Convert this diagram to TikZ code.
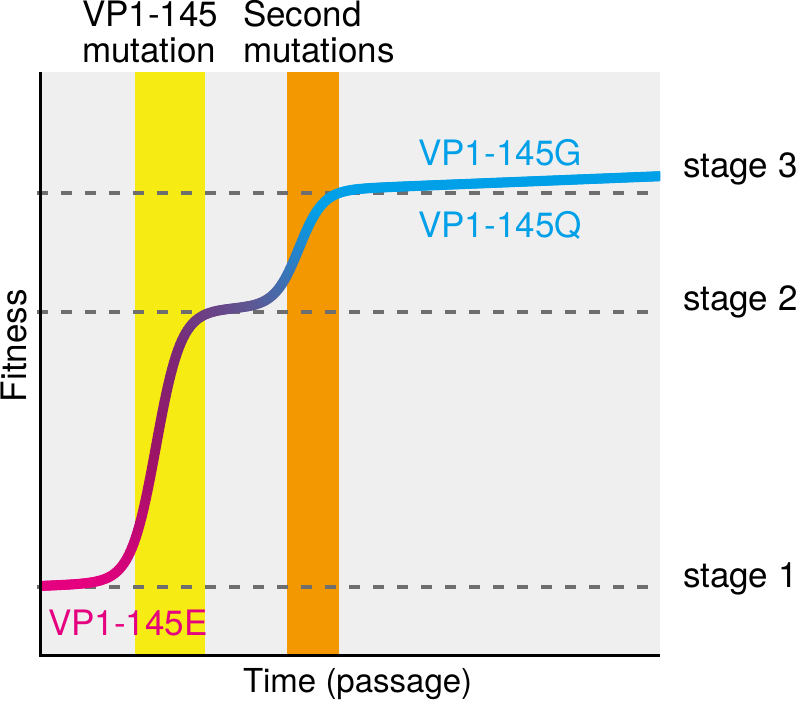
\documentclass[tikz,border=0pt]{standalone}
\usepackage{fontspec}
\setmainfont{TeX Gyre Heros}
\definecolor{bg}{RGB}{239,239,239}
\definecolor{yel}{RGB}{247,235,20}
\definecolor{ora}{RGB}{243,152,0}
\definecolor{mag}{RGB}{228,0,127}
\definecolor{blu}{RGB}{0,160,233}
\definecolor{dgray}{RGB}{110,110,110}
\pgfmathdeclarefunction{sg}{1}{\pgfmathparse{1/(1+exp(-max(-9,min(9,#1))))}}
\pgfmathdeclarefunction{fy}{1}{\pgfmathparse{586-270*sg((#1-156)/12.5)-115*sg((#1-299)/12)-0.04*(#1-40)}}
\pgfmathdeclarefunction{cl}{3}{\pgfmathparse{max(0,min(1,(#1-#2)/(#3-#2)))}}
\begin{document}
\begin{tikzpicture}[x=1pt,y=-1pt,
  lbl/.style={font=\fontsize{35}{40}\selectfont, inner sep=0pt, outer sep=0pt},
  stageline/.style={dgray, line width=4pt, dash pattern=on 11pt off 13pt}]
\useasboundingbox (0,0) rectangle (800,706);
% background and bands
\fill[bg] (40,72) rectangle (660,655);
\fill[yel] (135,72) rectangle (205,655);
\fill[ora] (287,72) rectangle (339,655);
% stage lines
\draw[stageline] (37,193) -- (660,193);
\draw[stageline] (37,312) -- (660,312);
\draw[stageline] (37,587) -- (660,587);
% fitness curve with colour gradient along its length
\begin{scope}
\clip (40,0) rectangle (660,706);
\xdef\arc{0}
\foreach \x in {38,40,...,660} {
  \pgfmathsetmacro\xa{\x}
  \pgfmathsetmacro\xb{\x+2}
  \pgfmathsetmacro\ya{fy(\xa)}
  \pgfmathsetmacro\yb{fy(\xb)}
  \pgfmathsetmacro\arcn{\arc+veclen(2,\yb-\ya)}
  \pgfmathsetmacro\am{(\arc+\arcn)/2}
  \pgfmathsetmacro\tA{cl(\am,60,210)}
  \pgfmathsetmacro\tB{cl(\am,210,320)}
  \pgfmathsetmacro\tC{cl(\am,320,410)}
  \pgfmathsetmacro\tD{cl(\am,410,480)}
  \pgfmathsetmacro\tE{cl(\am,480,530)}
  \pgfmathtruncatemacro\cr{max(0,228-72*\tA-34*\tB-27*\tC-55*\tD-40*\tE)}
  \pgfmathtruncatemacro\cg{20*\tA+22*\tB+46*\tC+42*\tD+30*\tE}
  \pgfmathtruncatemacro\cb{127-23*\tA+16*\tB+28*\tC+52*\tD+33*\tE}
  \definecolor{cseg}{RGB}{\cr,\cg,\cb}
  \draw[cseg, line width=10pt, line cap=round] (\xa,\ya) -- (\xb,\yb);
  \xdef\arc{\arcn}
}
\end{scope}
% axes
\draw[line width=3pt] (40,72) -- (40,655) -- (660,655);
% labels
\node[lbl, anchor=base west] (t1a) at (82,27) {VP1-145};
\node[lbl, anchor=base west] (t1b) at (82,63) {mutation};
\node[lbl, anchor=base west] (t2a) at (243,27) {Second};
\node[lbl, anchor=base west] (t2b) at (243,63) {mutations};
\node[lbl, anchor=base west, font=\fontsize{33}{40}\selectfont] (xl) at (243,692) {Time (passage)};
\node[lbl, anchor=base west, rotate=90] (yl) at (27,402) {Fitness};
\node[lbl, anchor=base west] (s3) at (683,177) {stage 3};
\node[lbl, anchor=base west] (s2) at (683,310) {stage 2};
\node[lbl, anchor=base west] (s1) at (683,587) {stage 1};
\node[lbl, anchor=base west, text=mag] (le) at (48,635) {VP1-145E};
\node[lbl, anchor=base, text=blu] (lg) at (500,165) {VP1-145G};
\node[lbl, anchor=base, text=blu] (lq) at (500,237) {VP1-145Q};
\end{tikzpicture}
\end{document}
